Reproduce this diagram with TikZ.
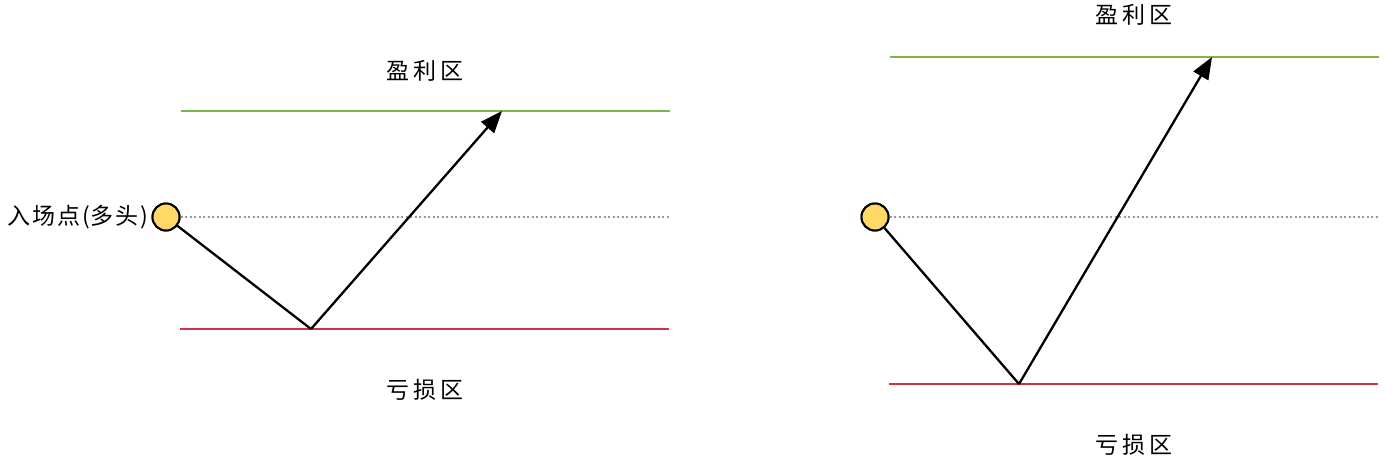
\documentclass[tikz,border=0pt]{standalone}
\usepackage{fontspec}
\newfontfamily\cjk{Noto Sans CJK SC}
\usetikzlibrary{arrows.meta}
\definecolor{gainc}{HTML}{7AB648}
\definecolor{lossc}{HTML}{D5303E}
\definecolor{entryc}{HTML}{FFD966}
\newcommand{\gp}{\kern2pt}
\tikzset{
  gainline/.style={draw=gainc, line width=2.3pt},
  lossline/.style={draw=lossc, line width=2.3pt},
  refline/.style={draw=gray!80, line width=1.2pt, dash pattern=on 2pt off 2.5pt},
  entrypt/.style={circle, draw=black, fill=entryc, line width=2pt, minimum size=27pt, inner sep=0pt},
  pathline/.style={draw=black, line width=2.3pt},
  pathlinearrow/.style={pathline, -{Triangle[length=22pt, width=17pt]}},
  lbl/.style={font=\cjk\fontsize{23}{26}\selectfont, inner sep=0pt},
}
\begin{document}
\begin{tikzpicture}[x=1pt, y=-1pt]
\useasboundingbox (0,0) rectangle (1395,472);
% ---------- left ----------
\coordinate (lgA) at (181,111); \coordinate (lgB) at (670,111);
\coordinate (lrA) at (180,329); \coordinate (lrB) at (669,329);
\coordinate (ldB) at (670,217);
\coordinate (lbot) at (311,329);
\coordinate (ltop) at (502,111);
\draw[gainline] (lgA) -- (lgB);
\draw[lossline] (lrA) -- (lrB);
\node[entrypt] (le) at (166,217) {};
\draw[refline] (le.east) -- (ldB);
\draw[pathline] (le) -- (lbot);
\draw[pathlinearrow] (lbot) -- (ltop);
\node[entrypt] at (166,217) {};
\node[lbl] (lgain) at (425,71) {盈\,利\,区};
\node[lbl] (lloss) at (425,390) {亏\,损\,区};
\node[lbl, anchor=east] (lentry) at (148,217) {入\gp 场\gp 点\gp(多\gp 头\gp)};
% ---------- right ----------
\coordinate (rgA) at (890,57); \coordinate (rgB) at (1379,57);
\coordinate (rrA) at (889,384); \coordinate (rrB) at (1378,384);
\coordinate (rdB) at (1379,217);
\coordinate (rbot) at (1019,384);
\coordinate (rtop) at (1212,57);
\draw[gainline] (rgA) -- (rgB);
\draw[lossline] (rrA) -- (rrB);
\node[entrypt] (re) at (875,217) {};
\draw[refline] (re.east) -- (rdB);
\draw[pathline] (re) -- (rbot);
\draw[pathlinearrow] (rbot) -- (rtop);
\node[entrypt] at (875,217) {};
\node[lbl] (rgain) at (1134,15) {盈\,利\,区};
\node[lbl] (rloss) at (1134,445) {亏\,损\,区};
\end{tikzpicture}
\end{document}
